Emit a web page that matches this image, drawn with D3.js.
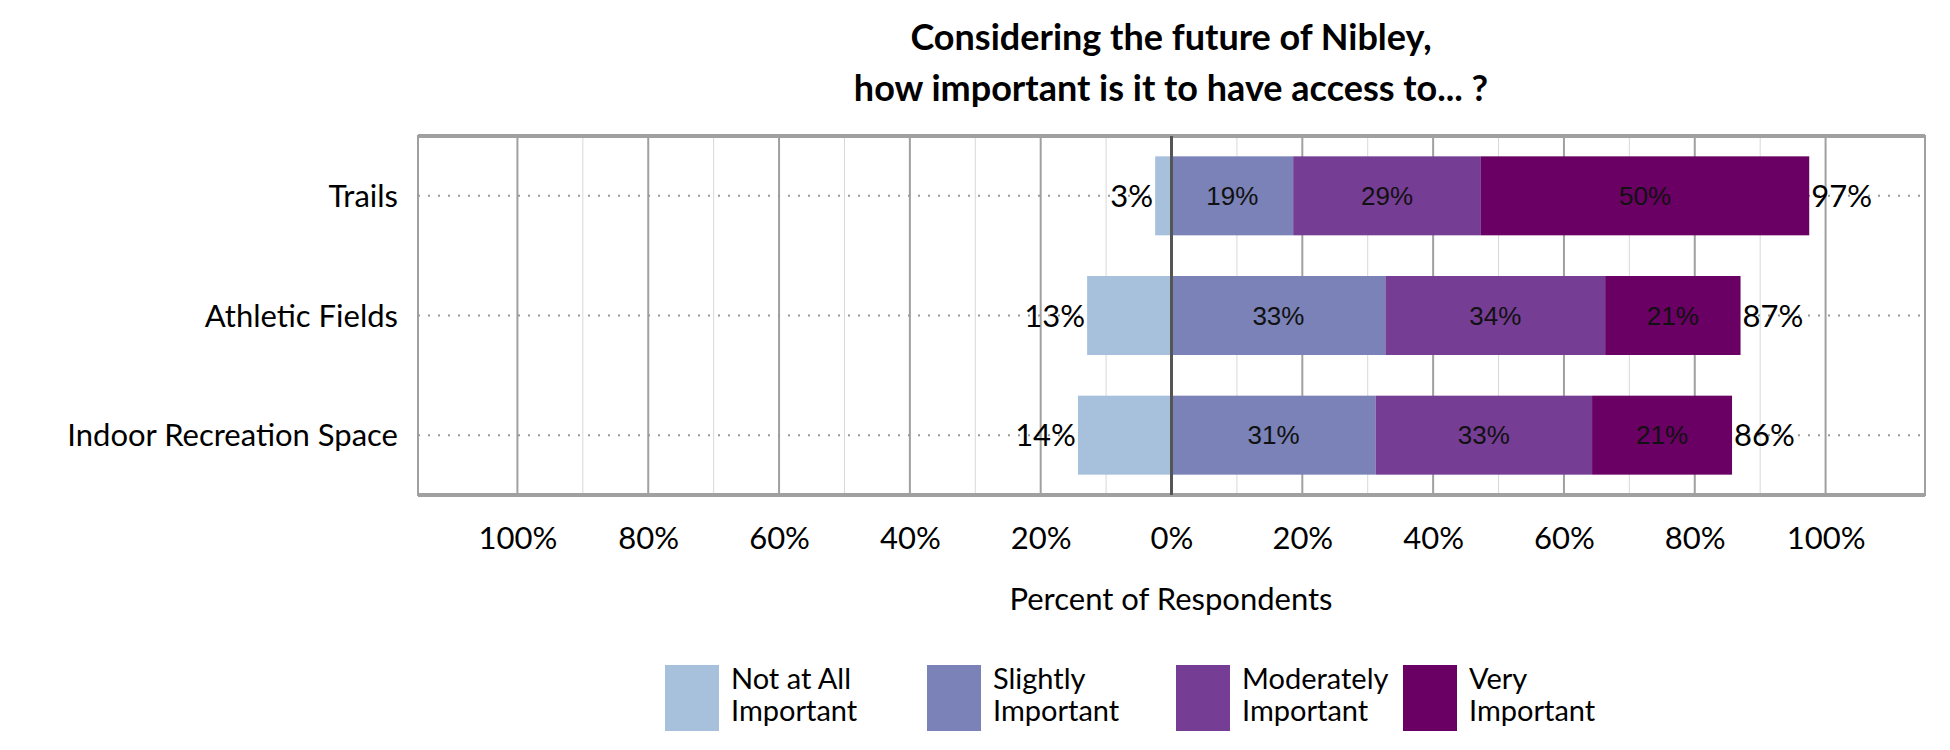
<!DOCTYPE html><html><head><meta charset="utf-8">
<script src="https://cdn.jsdelivr.net/npm/d3@7"></script>
<style>body{margin:0;background:#fff}</style></head><body>
<svg id="c" width="1950" height="750"></svg>
<script>
const categories=["Trails","Athletic Fields","Indoor Recreation Space"];
const notAtAll=[2.5,12.9,14.3];
const slightly=[18.6,32.7,31.2];
const moderately=[28.7,33.6,33.1];
const very=[50.2,20.7,21.4];
const notLabels=["3%","13%","14%"];
const slightLabels=["19%","33%","31%"];
const modLabels=["29%","34%","33%"];
const veryLabels=["50%","21%","21%"];
const totalLabels=["97%","87%","86%"];
const ticks=[-100,-80,-60,-40,-20,0,20,40,60,80,100];
const legendNames=[["Not at All","Important"],["Slightly","Important"],["Moderately","Important"],["Very","Important"]];
const colors=["#a7c1dd","#7a82b8","#763d95","#6a0064"];

const svg=d3.select("#c");
const L=418,R=1925,T=136,B=495;
const x=d3.scaleLinear().domain([-115.2,115.2]).range([L,R]);
const y=d3.scaleBand().domain(categories).range([T,B]).paddingInner(0.34).paddingOuter(0.17);
const font="Lato, 'Open Sans', sans-serif";
svg.append("text").attr("x",1171).attr("y",50).attr("text-anchor","middle").attr("font-family",font).attr("font-weight","bold").attr("font-size",36).text("Considering the future of Nibley,");
svg.append("text").attr("x",1171).attr("y",101).attr("text-anchor","middle").attr("font-family",font).attr("font-weight","bold").attr("font-size",36).text("how important is it to have access to... ?");
d3.range(-100,101,10).forEach(v=>{
  const major=v%20===0;
  svg.append("line").attr("x1",x(v)).attr("x2",x(v)).attr("y1",T).attr("y2",B)
   .attr("stroke",major?"#a0a0a0":"#d8d8d8").attr("stroke-width",major?2:1);
});
svg.append("rect").attr("x",L).attr("y",T).attr("width",R-L).attr("height",B-T).attr("fill","none").attr("stroke","#a0a0a0").attr("stroke-width",2);
svg.append("line").attr("x1",L).attr("x2",R).attr("y1",T).attr("y2",T).attr("stroke","#a0a0a0").attr("stroke-width",4);
svg.append("line").attr("x1",L).attr("x2",R).attr("y1",B).attr("y2",B).attr("stroke","#a0a0a0").attr("stroke-width",4);
categories.forEach(c=>{
  svg.append("line").attr("x1",L).attr("x2",R).attr("y1",y(c)+y.bandwidth()/2).attr("y2",y(c)+y.bandwidth()/2)
   .attr("stroke","#999").attr("stroke-width",2).attr("stroke-dasharray","2,8");
});
categories.forEach((c,i)=>{
  const yy=y(c),h=y.bandwidth(),cy=yy+h/2;
  svg.append("rect").attr("x",x(-notAtAll[i])).attr("y",yy).attr("width",x(0)-x(-notAtAll[i])).attr("height",h).attr("fill",colors[0]);
  let s=0;
  [[slightly,slightLabels],[moderately,modLabels],[very,veryLabels]].forEach(([arr,lab],k)=>{
    svg.append("rect").attr("x",x(s)).attr("y",yy).attr("width",x(s+arr[i])-x(s)).attr("height",h).attr("fill",colors[k+1]);
    svg.append("text").attr("x",(x(s)+x(s+arr[i]))/2).attr("y",cy+9).attr("text-anchor","middle").attr("font-family","'Liberation Sans',Arial").attr("font-size",26).attr("fill","#111").text(lab[i]);
    s+=arr[i];
  });
  svg.append("text").attr("x",x(s)+2).attr("y",cy+11).attr("font-family",font).attr("font-size",31).text(totalLabels[i]);
  svg.append("text").attr("x",x(-notAtAll[i])-2).attr("y",cy+11).attr("text-anchor","end").attr("font-family",font).attr("font-size",31).text(notLabels[i]);
  svg.append("text").attr("x",L-20).attr("y",cy+11).attr("text-anchor","end").attr("font-family",font).attr("font-size",31).text(c);
});
svg.append("line").attr("x1",x(0)).attr("x2",x(0)).attr("y1",T).attr("y2",B).attr("stroke","#555").attr("stroke-width",3);
const ax=svg.append("g").attr("transform",`translate(0,${B})`).call(d3.axisBottom(x).tickValues(ticks).tickSize(0).tickPadding(32).tickFormat(v=>Math.abs(v)+"%"));
ax.select(".domain").remove();
ax.selectAll("text").attr("font-family",font).attr("font-size",31).attr("fill","#000");
svg.append("text").attr("x",1171).attr("y",610).attr("text-anchor","middle").attr("font-family",font).attr("font-size",31).text("Percent of Respondents");
const lx=[665,927,1176,1403];
legendNames.forEach((n,i)=>{
  svg.append("rect").attr("x",lx[i]).attr("y",665).attr("width",54).attr("height",66).attr("fill",colors[i]);
  n.forEach((t,j)=>svg.append("text").attr("x",lx[i]+66).attr("y",689+j*32).attr("font-family",font).attr("font-size",29).text(t));
});
</script></body></html>
